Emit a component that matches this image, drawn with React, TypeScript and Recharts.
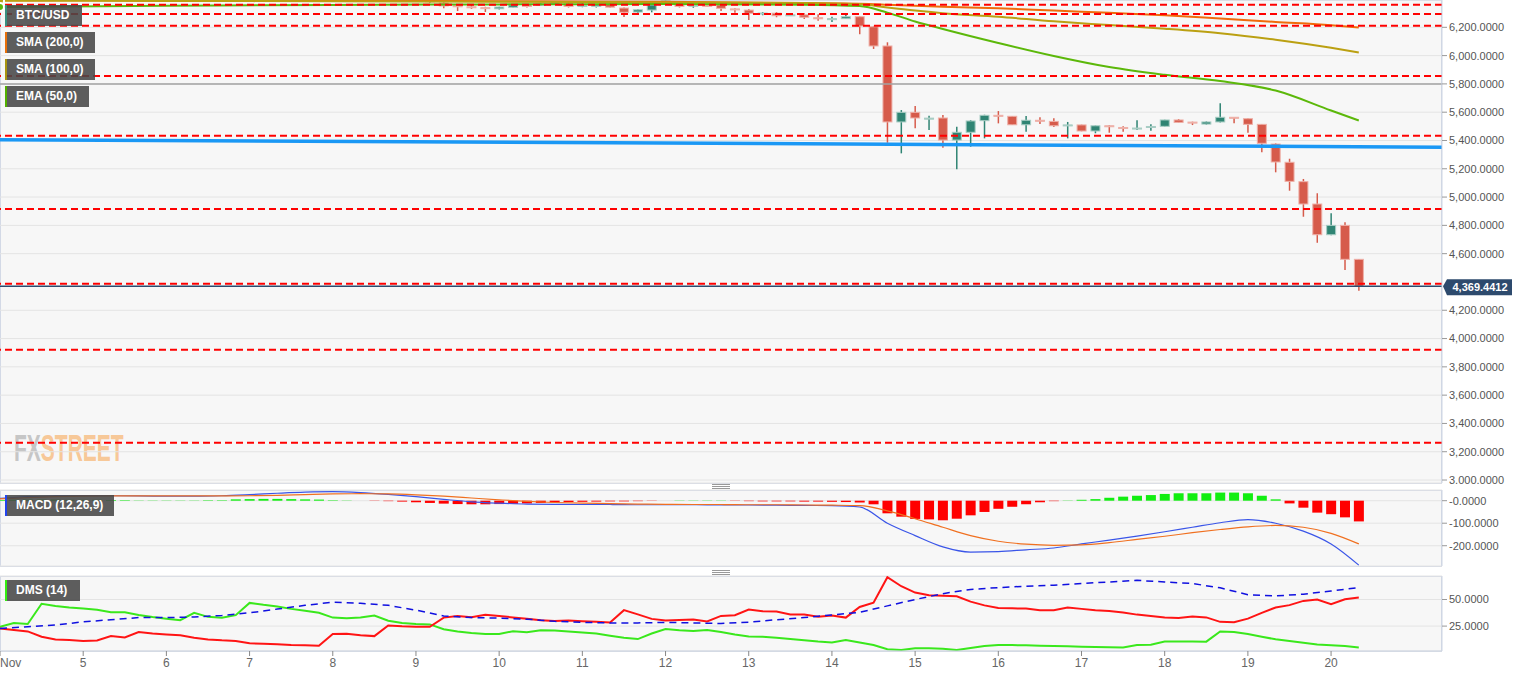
import {
  ComposedChart,
  Bar,
  Line,
  XAxis,
  YAxis,
  CartesianGrid,
  ReferenceLine,
  Cell,
} from "recharts";

// 4h candles, index 0 = Nov 4 00:00
const OPEN = [
  6420, 6430, 6415, 6398, 6430, 6450, 6465, 6455, 6440, 6450,
  6430, 6396, 6418, 6430, 6420, 6428, 6440, 6445, 6465, 6480,
  6470, 6460, 6450, 6445, 6430, 6420, 6435, 6425, 6410, 6418,
  6405, 6398, 6372, 6352, 6345, 6339, 6331, 6341, 6358, 6356,
  6365, 6366, 6348, 6347, 6365, 6336, 6308, 6322, 6392, 6362,
  6350, 6355, 6358, 6330, 6322, 6297, 6300, 6284, 6288, 6268,
  6258, 6261, 6275, 6204, 6068, 5531, 5599, 5556, 5559, 5403,
  5458, 5540, 5578, 5571, 5511, 5543, 5535, 5506, 5510, 5467,
  5504, 5492, 5484, 5494, 5500, 5545, 5530, 5516, 5531, 5564,
  5554, 5514, 5375, 5246, 5109, 4951, 4734, 4800, 4560,
];
const HIGH = [
  6445, 6450, 6430, 6440, 6460, 6480, 6490, 6470, 6460, 6465,
  6440, 6425, 6440, 6445, 6435, 6450, 6455, 6475, 6495, 6500,
  6485, 6475, 6470, 6460, 6445, 6440, 6450, 6440, 6425, 6430,
  6420, 6410, 6395, 6358, 6358, 6345, 6346, 6362, 6365, 6372,
  6385, 6380, 6370, 6362, 6372, 6340, 6329, 6362, 6410, 6380,
  6363, 6362, 6366, 6335, 6329, 6308, 6308, 6292, 6299, 6292,
  6275, 6294, 6279, 6210, 6094, 5615, 5644, 5575, 5580, 5497,
  5545, 5582, 5608, 5573, 5573, 5564, 5557, 5531, 5512, 5506,
  5508, 5500, 5543, 5514, 5547, 5552, 5533, 5535, 5663, 5566,
  5557, 5516, 5380, 5271, 5128, 5027, 4885, 4822, 4562,
];
const LOW = [
  6405, 6410, 6400, 6390, 6420, 6440, 6445, 6430, 6425, 6420,
  6388, 6392, 6405, 6410, 6400, 6415, 6425, 6435, 6450, 6460,
  6450, 6440, 6435, 6420, 6410, 6400, 6415, 6405, 6398, 6400,
  6385, 6372, 6334, 6315, 6330, 6308, 6326, 6336, 6340, 6350,
  6360, 6340, 6342, 6340, 6338, 6273, 6294, 6306, 6358, 6340,
  6338, 6345, 6315, 6303, 6252, 6285, 6271, 6280, 6259, 6247,
  6237, 6259, 6151, 6047, 5384, 5309, 5486, 5474, 5349, 5196,
  5356, 5415, 5521, 5509, 5462, 5516, 5495, 5415, 5465, 5451,
  5455, 5462, 5474, 5469, 5497, 5526, 5509, 5512, 5528, 5521,
  5455, 5316, 5175, 5045, 4861, 4677, 4730, 4484, 4338,
];
const CLOSE = [
  6430, 6415, 6425, 6430, 6450, 6465, 6455, 6440, 6450, 6430,
  6396, 6418, 6430, 6420, 6428, 6440, 6445, 6465, 6480, 6470,
  6460, 6450, 6445, 6430, 6420, 6435, 6425, 6410, 6418, 6405,
  6392, 6380, 6351, 6346, 6341, 6334, 6343, 6358, 6347, 6365,
  6378, 6347, 6355, 6358, 6342, 6306, 6324, 6358, 6398, 6348,
  6356, 6352, 6334, 6325, 6299, 6301, 6282, 6288, 6271, 6260,
  6261, 6275, 6209, 6068, 5531, 5599, 5559, 5558, 5403, 5458,
  5538, 5578, 5572, 5511, 5543, 5537, 5504, 5510, 5467, 5504,
  5498, 5486, 5488, 5499, 5545, 5528, 5524, 5531, 5564, 5558,
  5514, 5380, 5248, 5111, 4951, 4734, 4800, 4560, 4369.4412,
];

// moving averages, sampled at these candle indexes
const MA_IDX = [0, 12, 24, 36, 48, 58, 62, 64, 66, 68, 72, 76, 80, 84, 88, 92, 96, 98];
const EMA50 = [6343, 6352, 6358, 6362, 6364, 6360, 6350, 6304, 6241, 6188, 6089, 5997, 5919, 5864, 5820, 5753, 5612, 5541];
const SMA100 = [6388, 6386, 6384, 6380, 6376, 6372, 6364, 6340, 6318, 6300, 6275, 6242, 6216, 6190, 6158, 6112, 6055, 6022];
const SMA200 = [6392, 6390, 6388, 6385, 6380, 6372, 6367, 6360, 6352, 6345, 6335, 6318, 6302, 6285, 6262, 6238, 6215, 6199];

const LEVELS = [6360, 6294, 6211, 5856, 5434, 4916, 4387, 3921, 3264];
const TREND_START = 5406;
const TREND_END = 5353;

// MACD (12,26,9)
const HIST = [
  3, 4, 5, 5, 5, 4, 4, 4, 3,
  2, 1, 1, 1, 1, 1, 2, 2,
  6, 7, 8, 8, 7, 6, 5,
  2, 1, 0,
  -1, -2, -4, -7, -10, -13, -15, -16, -16, -15, -14, -12, -10, -8, -6, -5, -4, -3,
  -3, -2, -1, 0, 1, 1, 1, 1, -1, -2, -3, -3, -3, -4, -4, -5, -6, -8,
  -16, -56, -71, -81, -83, -87, -80, -65, -50, -36, -27, -16, -7, -2, 1, 4, 7, 13,
  18, 22, 25, 30, 33, 33, 33, 36, 36, 33, 22, 6, -12, -31, -53, -60, -74, -92,
];
// every second candle
const MACD = [
  10, 18, 21, 22, 22, 21, 20, 20, 22, 27, 33, 38, 40, 36, 28, 18, 6, -5, -11, -15,
  -16, -17, -17, -18, -18, -18, -19, -19, -20, -21, -22, -28, -100, -155, -205, -228, -226, -218, -210, -192,
  -175, -157, -138, -118, -98, -84, -100, -135, -192, -286,
];
const SIGNAL = [
  8, 14, 18, 20, 21, 21, 21, 21, 21, 22, 24, 27, 30, 31, 30, 26, 20, 12, 4, -3,
  -8, -11, -13, -15, -16, -17, -17, -18, -18, -19, -20, -22, -45, -80, -118, -155, -180, -193, -198, -196,
  -186, -172, -158, -142, -128, -116, -110, -118, -145, -192,
];

// DMS (14)
const DI_PLUS = [
  24.4, 28, 27, 46, 44, 42.5, 41.5, 40.3, 38, 38,
  35.5, 33.5, 32, 30.6, 37.5, 33.7, 32.8, 35.3, 46.8, 45,
  43.5, 41.2, 39.5, 37.5, 33, 32.3, 33, 35, 30, 28,
  27, 26.6, 22, 20, 18.5, 17.5, 17.5, 20.2, 19.2, 21,
  20.8, 20, 19, 18, 16, 14, 12.8, 18, 22.3, 21,
  20.5, 21.3, 19.5, 17.2, 15.2, 15, 14, 12.8, 11.8, 10.5,
  9.5, 12, 9.5, 7.2, 3.3, 2.6, 4.2, 4.2, 3.6, 2.5,
  4.5, 6.3, 7.3, 7.2, 6.9, 6.6, 6.3, 6, 5.6, 5.4,
  5.2, 5, 7.2, 7.5, 10.5, 10.6, 10.5, 10.4, 20, 19.5,
  17.6, 15, 12.6, 11, 9.3, 7.8, 7, 6.3, 5,
];
const DI_MINUS = [
  22.8, 21.3, 20, 15, 12.5, 12, 11, 11.5, 15.6, 14.4,
  19.4, 18, 17.2, 16.3, 14, 12.5, 11.6, 11, 8.8, 8.5,
  8, 7.2, 6.9, 6.6, 17.5, 17.8, 16.5, 15.6, 25.6, 24.8,
  24.4, 24.4, 33, 34.6, 33.4, 35.6, 34.4, 33.2, 32, 30.6,
  29.8, 30.3, 29.6, 29, 28.5, 40, 36, 31.8, 30.3, 30.8,
  31.3, 29.4, 34.6, 35.3, 40.6, 39, 38.7, 36, 36, 33.7,
  35, 33, 43, 47, 71, 62.5, 56.5, 54, 53.5, 53,
  48, 44.5, 42.1, 41.7, 41.5, 40, 40, 42.5, 41.2, 40,
  39.3, 37.8, 35.8, 34.6, 33.2, 32.7, 34, 33.2, 29, 28.7,
  32, 37.5, 42.5, 44.7, 48.7, 50, 45.6, 50.3, 51.9,
];
// every second candle
const ADX = [
  22.8, 24.4, 26, 29, 31, 33, 33, 33.5, 35, 37.5, 41, 44.5, 47.5, 46.5, 44.5, 40, 34.5, 33, 32.5, 31.5,
  29.5, 28.5, 28, 28, 28.5, 28, 27.5, 28.7, 31, 33, 35.5, 38, 44, 50, 55.5, 59.5, 61.2, 62.5, 63.5, 65,
  66.5, 68, 66.5, 65, 61, 54.5, 53.4, 55, 58, 61.2,
];

const DAY_TICKS = [0, 6, 12, 18, 24, 30, 36, 42, 48, 54, 60, 66, 72, 78, 84, 90, 96];
const DAY_LABELS = ["Nov", "5", "6", "7", "8", "9", "10", "11", "12", "13", "14", "15", "16", "17", "18", "19", "20"];
const PRICE_TICKS = [3000, 3200, 3400, 3600, 3800, 4000, 4200, 4600, 4800, 5000, 5200, 5400, 5600, 5800, 6000, 6200];

const W = 1531;
const AXIS_W = 89;
const PLOT_W = W - AXIS_W;
const X_DOMAIN: [number, number] = [0, 104];
const FONT = "'Liberation Sans', Arial, sans-serif";

const candles = OPEN.map((o, i) => ({
  t: i,
  o,
  h: HIGH[i],
  l: LOW[i],
  c: CLOSE[i],
  range: [LOW[i], HIGH[i]],
}));
const maData = (vals: number[]) => MA_IDX.map((t, k) => ({ t, v: vals[k] }));
const everyTwo = (vals: number[]) => vals.map((v, k) => ({ t: k * 2, v }));
const histData = HIST.map((v, i) => ({ t: i, v }));
const dmsData = DI_PLUS.map((p, i) => ({ t: i, plus: p, minus: DI_MINUS[i] }));
const LAST = CLOSE[CLOSE.length - 1];

const fmt = (v: number) =>
  v === 0 ? "-0.0000" : v.toLocaleString("en-US", { minimumFractionDigits: 4, maximumFractionDigits: 4 });

const yTick = { fontSize: 11, fill: "#555", fontFamily: FONT };

function Candle(props: any) {
  const { x, y, width, height, payload } = props;
  if (x == null || !payload) return null;
  const { o, h, l, c } = payload;
  const top = Math.min(y, y + height);
  const k = h === l ? 0 : Math.abs(height) / (h - l);
  const py = (v: number) => top + (h - v) * k;
  const cx = x + width / 2;
  const up = c >= o;
  const fill = up ? "#2f8473" : "#d65b4b";
  const edge = up ? "#a8cdc4" : "#eeb0a8";
  const bTop = py(Math.max(o, c));
  const bH = Math.max(1, Math.abs(py(o) - py(c)));
  return (
    <g>
      <line x1={cx} x2={cx} y1={py(h)} y2={py(l)} stroke={fill} strokeWidth={1.5} />
      <rect x={x + 0.5} y={bTop} width={width - 1} height={bH} fill={fill} stroke={edge} strokeWidth={1} />
    </g>
  );
}

function PriceTag(props: any) {
  const vb = props.viewBox;
  if (!vb) return null;
  const x = vb.x + vb.width + 1;
  const y = vb.y;
  return (
    <g>
      <path d={`M${x} ${y} L${x + 4} ${y - 7} H${x + 69} V${y + 9} H${x + 4} Z`} fill="#2d4a6d" />
      <text x={x + 37} y={y + 5} textAnchor="middle" fill="#fff" fontSize={11} fontWeight="bold" fontFamily={FONT}>
        {fmt(LAST)}
      </text>
    </g>
  );
}

function DayTick(props: any) {
  const { x, y, payload } = props;
  const i = DAY_TICKS.indexOf(payload.value);
  return (
    <text
      x={x}
      y={y}
      dy="0.71em"
      textAnchor={i === 0 ? "start" : "middle"}
      fill="#666"
      fontSize={12}
      fontFamily={FONT}
    >
      {DAY_LABELS[i]}
    </text>
  );
}

function Tag({ top, width, color, text }: { top: number; width: number; color: string; text: string }) {
  return (
    <div
      style={{
        position: "absolute",
        left: 5,
        top,
        width,
        height: 21,
        background: "rgba(72,72,72,0.88)",
        borderLeft: `2px solid ${color}`,
        color: "#fff",
        fontFamily: FONT,
        fontWeight: "bold",
        fontSize: 12,
        lineHeight: "21px",
        paddingLeft: 9,
        boxSizing: "border-box",
      }}
    >
      {text}
    </div>
  );
}

function Handle({ top }: { top: number }) {
  return (
    <div style={{ position: "absolute", left: 712, top, width: 18 }}>
      {[0, 2, 4].map((d) => (
        <div key={d} style={{ position: "absolute", top: d, width: 18, borderTop: "1px solid #999" }} />
      ))}
    </div>
  );
}

const panelBg = (top: number, height: number) => (
  <div
    style={{
      position: "absolute",
      left: 0,
      top,
      width: PLOT_W,
      height,
      background: "#f7f7f7",
      border: "1px solid #d3d9e6",
      boxSizing: "border-box",
    }}
  />
);

export default function App() {
  return (
    <div
      style={{
        position: "absolute",
        left: 0,
        top: 0,
        width: W,
        height: 677,
        background: "#fff",
        fontFamily: FONT,
        overflow: "hidden",
      }}
    >
      {panelBg(0, 484)}
      {panelBg(490, 77)}
      {panelBg(576, 76)}

      <svg style={{ position: "absolute", left: 0, top: 426 }} width={140} height={42}>
        <g transform="scale(1,1.8)">
          <text x={14} y={19.5} fontSize={21} fontWeight="bold" fontFamily={FONT}>
            <tspan fill="#c6c6c6">FX</tspan>
            <tspan fill="#f7c898">STREET</tspan>
          </text>
        </g>
      </svg>

      <div style={{ position: "absolute", left: 0, top: 0 }}>
        <ComposedChart width={W} height={484} data={candles} margin={{ top: 0, right: 0, bottom: 1, left: 0 }}>
          <CartesianGrid vertical={false} stroke="#e4e4e4" />
          <XAxis dataKey="t" type="number" domain={X_DOMAIN} hide allowDataOverflow />
          <YAxis
            orientation="right"
            width={AXIS_W}
            type="number"
            domain={[2979, 6393]}
            allowDataOverflow
            ticks={PRICE_TICKS}
            interval={0}
            tickFormatter={fmt}
            tick={yTick}
            tickSize={5}
            tickLine={{ stroke: "#999" }}
            axisLine={{ stroke: "#cdd5e3" }}
          />
          <ReferenceLine y={5800} stroke="#a3a3a3" strokeWidth={1.5} />
          <Bar dataKey="range" barSize={10} shape={<Candle />} isAnimationActive={false} />
          <Line data={maData(SMA200)} dataKey="v" type="monotone" stroke="#f06a0a" strokeWidth={2} dot={false} isAnimationActive={false} />
          <Line data={maData(SMA100)} dataKey="v" type="monotone" stroke="#bba012" strokeWidth={2} dot={false} isAnimationActive={false} />
          <Line data={maData(EMA50)} dataKey="v" type="monotone" stroke="#5cb80a" strokeWidth={2} dot={false} isAnimationActive={false} />
          {LEVELS.map((v) => (
            <ReferenceLine key={v} y={v} stroke="#ff0000" strokeWidth={2} strokeDasharray="7 4" />
          ))}
          <ReferenceLine
            segment={[
              { x: 0, y: TREND_START },
              { x: 104, y: TREND_END },
            ]}
            stroke="#1a98f5"
            strokeWidth={3.5}
          />
          <ReferenceLine y={LAST} stroke="#2d4a6d" strokeWidth={1.5} label={<PriceTag />} />
        </ComposedChart>
      </div>

      <div style={{ position: "absolute", left: 0, top: 488 }}>
        <ComposedChart width={W} height={80} data={histData} margin={{ top: 2, right: 0, bottom: 2, left: 0 }}>
          <CartesianGrid vertical={false} stroke="#e4e4e4" />
          <XAxis dataKey="t" type="number" domain={X_DOMAIN} hide allowDataOverflow />
          <YAxis
            orientation="right"
            width={AXIS_W}
            type="number"
            domain={[-290, 47.5]}
            allowDataOverflow
            ticks={[-200, -100, 0]}
            interval={0}
            tickFormatter={fmt}
            tick={yTick}
            tickSize={5}
            tickLine={{ stroke: "#999" }}
            axisLine={{ stroke: "#cdd5e3" }}
          />
          <Bar dataKey="v" barSize={10} isAnimationActive={false}>
            {HIST.map((v, i) => (
              <Cell key={i} fill={v >= 0 ? "#11ee11" : "#ff0000"} />
            ))}
          </Bar>
          <Line data={everyTwo(MACD)} dataKey="v" type="monotone" stroke="#3a55e8" strokeWidth={1.2} dot={false} isAnimationActive={false} />
          <Line data={everyTwo(SIGNAL)} dataKey="v" type="monotone" stroke="#f07020" strokeWidth={1.2} dot={false} isAnimationActive={false} />
        </ComposedChart>
      </div>

      <div style={{ position: "absolute", left: 0, top: 570 }}>
        <ComposedChart width={W} height={107} data={dmsData} margin={{ top: 6, right: 0, bottom: 0, left: 0 }}>
          <CartesianGrid vertical={false} stroke="#e4e4e4" />
          <XAxis
            dataKey="t"
            type="number"
            domain={X_DOMAIN}
            allowDataOverflow
            ticks={DAY_TICKS}
            interval={0}
            height={26}
            tickSize={5}
            tick={<DayTick />}
            tickLine={{ stroke: "#888" }}
            axisLine={{ stroke: "#cdd5e3" }}
          />
          <YAxis
            orientation="right"
            width={AXIS_W}
            type="number"
            domain={[1.6, 72.1]}
            allowDataOverflow
            ticks={[25, 50]}
            interval={0}
            tickFormatter={fmt}
            tick={yTick}
            tickSize={5}
            tickLine={{ stroke: "#999" }}
            axisLine={{ stroke: "#cdd5e3" }}
          />
          <Line dataKey="plus" type="linear" stroke="#3ae81c" strokeWidth={2} dot={false} isAnimationActive={false} />
          <Line dataKey="minus" type="linear" stroke="#ff1414" strokeWidth={2} dot={false} isAnimationActive={false} />
          <Line data={everyTwo(ADX)} dataKey="v" type="linear" stroke="#1010e0" strokeWidth={1.5} strokeDasharray="7 5" dot={false} isAnimationActive={false} />
        </ComposedChart>
      </div>

      <Handle top={484} />
      <Handle top={570} />

      <Tag top={5} width={77} color="#3a8f80" text="BTC/USD" />
      <Tag top={32} width={90} color="#e8700a" text="SMA (200,0)" />
      <Tag top={59} width={90} color="#a89410" text="SMA (100,0)" />
      <Tag top={86} width={84} color="#52b000" text="EMA (50,0)" />
      <Tag top={495} width={109} color="#2244ee" text="MACD (12,26,9)" />
      <Tag top={580} width={75} color="#33ee11" text="DMS (14)" />
    </div>
  );
}
